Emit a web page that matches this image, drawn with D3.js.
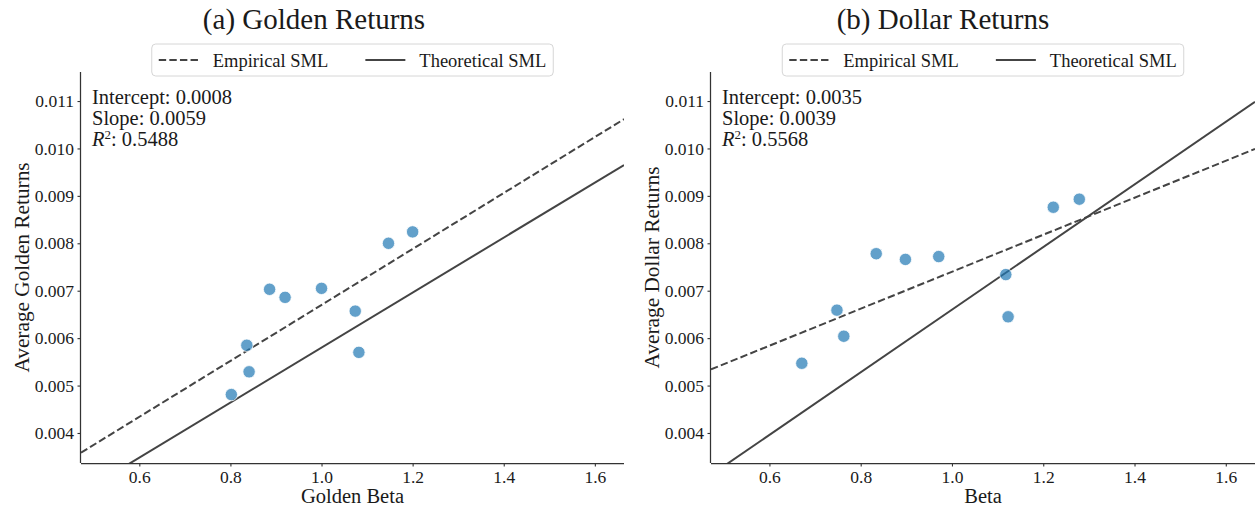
<!DOCTYPE html>
<html>
<head>
<meta charset="utf-8">
<script src="https://cdn.jsdelivr.net/npm/d3@7"></script>
<style>
  html, body { margin: 0; padding: 0; background: #fff; }
  svg { display: block; }
  text { font-family: "Liberation Serif", "Times New Roman", serif; fill: #1a1a1a; }
</style>
</head>
<body>
<svg id="chart" width="1257" height="510"></svg>
<script>
// ---------- data ----------
const titles = ["(a) Golden Returns", "(b) Dollar Returns"];
const xLabels = ["Golden Beta", "Beta"];
const yLabels = ["Average Golden Returns", "Average Dollar Returns"];
const legendLabels = ["Empirical SML", "Theoretical SML"];

const goldenBeta    = [0.802, 0.836, 0.841, 0.886, 0.920, 1.000, 1.074, 1.082, 1.147, 1.200];
const goldenReturns = [0.00481, 0.00585, 0.00529, 0.00703, 0.00686, 0.00705, 0.00657, 0.00570, 0.00800, 0.00824];

const dollarBeta    = [0.671, 0.748, 0.763, 0.834, 0.898, 0.971, 1.118, 1.123, 1.222, 1.279];
const dollarReturns = [0.00547, 0.00659, 0.00604, 0.00778, 0.00766, 0.00772, 0.00734, 0.00645, 0.00876, 0.00893];

const empiricalIntercepts = [0.0008, 0.0035];
const empiricalSlopes     = [0.0059, 0.0039];
const rSquared            = [0.5488, 0.5568];
const theoreticalIntercepts = [0.0, 0.0];
const theoreticalSlopes     = [0.0058, 0.0066];

const xTicks = [0.6, 0.8, 1.0, 1.2, 1.4, 1.6];
const yTicks = [0.004, 0.005, 0.006, 0.007, 0.008, 0.009, 0.010, 0.011];
const xDomain = [0.472, 1.664];
const yDomain = [0.003367, 0.011612];

// ---------- layout ----------
const svg = d3.select("#chart");
const panels = [
  { left: 81,  right: 624,  figCenter: 314, beta: goldenBeta, ret: goldenReturns },
  { left: 711, right: 1255, figCenter: 943, beta: dollarBeta, ret: dollarReturns }
];
const plotTop = 72, plotBottom = 463;
const lineColor = "#444444";
const spineColor = "#333333";
const pointColor = "#1f77b4";

panels.forEach((p, i) => {
  const g = svg.append("g");
  const x = d3.scaleLinear().domain(xDomain).range([p.left, p.right]);
  const y = d3.scaleLinear().domain(yDomain).range([plotBottom, plotTop]);
  const cx = (p.left + p.right) / 2;

  // clip
  const clipId = "clip" + i;
  svg.append("clipPath").attr("id", clipId)
    .append("rect").attr("x", p.left).attr("y", plotTop)
    .attr("width", p.right - p.left).attr("height", plotBottom - plotTop);

  // axes
  const xAxis = g.append("g").attr("transform", `translate(0,${plotBottom})`)
    .call(d3.axisBottom(x).tickValues(xTicks).tickFormat(d3.format(".1f")).tickSize(3.5).tickPadding(4));
  const yAxis = g.append("g").attr("transform", `translate(${p.left},0)`)
    .call(d3.axisLeft(y).tickValues(yTicks).tickFormat(d3.format(".3f")).tickSize(3.5).tickPadding(3.5));
  [xAxis, yAxis].forEach(a => {
    a.select(".domain").attr("stroke", spineColor).attr("stroke-width", 1.25);
    a.selectAll(".tick line").attr("stroke", spineColor).attr("stroke-width", 1.1);
    a.selectAll(".tick text").attr("font-family", "Liberation Serif").attr("font-size", 17.5).attr("fill", "#1a1a1a");
  });
  xAxis.select(".domain").attr("d", `M${p.left},0.5H${p.right}`);
  yAxis.select(".domain").attr("d", `M-0.5,${plotBottom}V${plotTop}`);

  // lines
  const plot = g.append("g").attr("clip-path", `url(#${clipId})`);
  const emp = b => empiricalIntercepts[i] + empiricalSlopes[i] * b;
  const theo = b => theoreticalIntercepts[i] + theoreticalSlopes[i] * b;
  const line = d3.line().x(d => x(d[0])).y(d => y(d[1]));
  plot.append("path")
    .attr("d", line(xDomain.map(b => [b, emp(b)])))
    .attr("fill", "none").attr("stroke", lineColor).attr("stroke-width", 2)
    .attr("stroke-dasharray", "7.4,3.2");
  plot.append("path")
    .attr("d", line(xDomain.map(b => [b, theo(b)])))
    .attr("fill", "none").attr("stroke", lineColor).attr("stroke-width", 2);

  // points
  plot.selectAll("circle").data(d3.zip(p.beta, p.ret)).join("circle")
    .attr("cx", d => x(d[0])).attr("cy", d => y(d[1])).attr("r", 6.2)
    .attr("fill", pointColor).attr("fill-opacity", 0.7)
    .attr("stroke", "#fff").attr("stroke-width", 0.8);

  // title (centered on the sub-figure)
  g.append("text").attr("x", p.figCenter).attr("y", 29).attr("text-anchor", "middle")
    .attr("font-size", 29).text(titles[i]);

  // axis labels
  g.append("text").attr("x", cx).attr("y", 503).attr("text-anchor", "middle")
    .attr("font-size", 20.5).text(xLabels[i]);
  g.append("text").attr("transform", `translate(${p.left - 52},${(plotTop + plotBottom) / 2}) rotate(-90)`)
    .attr("text-anchor", "middle").attr("font-size", 21.3).text(yLabels[i]);

  // stats annotation
  const ann = g.append("g").attr("font-size", 20.5);
  ann.append("text").attr("x", p.left + 11).attr("y", 104)
    .text("Intercept: " + d3.format(".4f")(empiricalIntercepts[i]));
  ann.append("text").attr("x", p.left + 11).attr("y", 125)
    .text("Slope: " + d3.format(".4f")(empiricalSlopes[i]));
  const r2 = ann.append("text").attr("x", p.left + 11).attr("y", 146);
  r2.append("tspan").attr("font-style", "italic").text("R");
  r2.append("tspan").attr("dy", -7).attr("font-size", 13).text("2");
  r2.append("tspan").attr("dy", 7).text(": " + d3.format(".4f")(rSquared[i]));

  // legend
  const lg = g.append("g");
  const box = lg.append("rect").attr("rx", 4).attr("ry", 4)
    .attr("fill", "#fff").attr("fill-opacity", 0.85)
    .attr("stroke", "#d6d6d6").attr("stroke-width", 1);
  const handleLen = 40, textGap = 14, colGap = 37, padX = 7;
  let cur = 0;
  const items = [];
  legendLabels.forEach((lab, k) => {
    const it = lg.append("g");
    it.append("line").attr("x1", cur).attr("x2", cur + handleLen).attr("y1", 0).attr("y2", 0)
      .attr("stroke", lineColor).attr("stroke-width", 2)
      .attr("stroke-dasharray", k === 0 ? "7.4,3.2" : null);
    const t = it.append("text").attr("x", cur + handleLen + textGap).attr("y", 6.5)
      .attr("font-size", 18.5).text(lab);
    const w = t.node().getComputedTextLength();
    cur += handleLen + textGap + w + (k === 0 ? colGap : 0);
    items.push(it);
  });
  const totalW = cur + padX * 2;
  const bx = cx - totalW / 2;
  items.forEach(it => it.attr("transform", `translate(${bx + padX},60)`));
  box.attr("x", bx).attr("y", 44).attr("width", totalW).attr("height", 32);
});
</script>
</body>
</html>
